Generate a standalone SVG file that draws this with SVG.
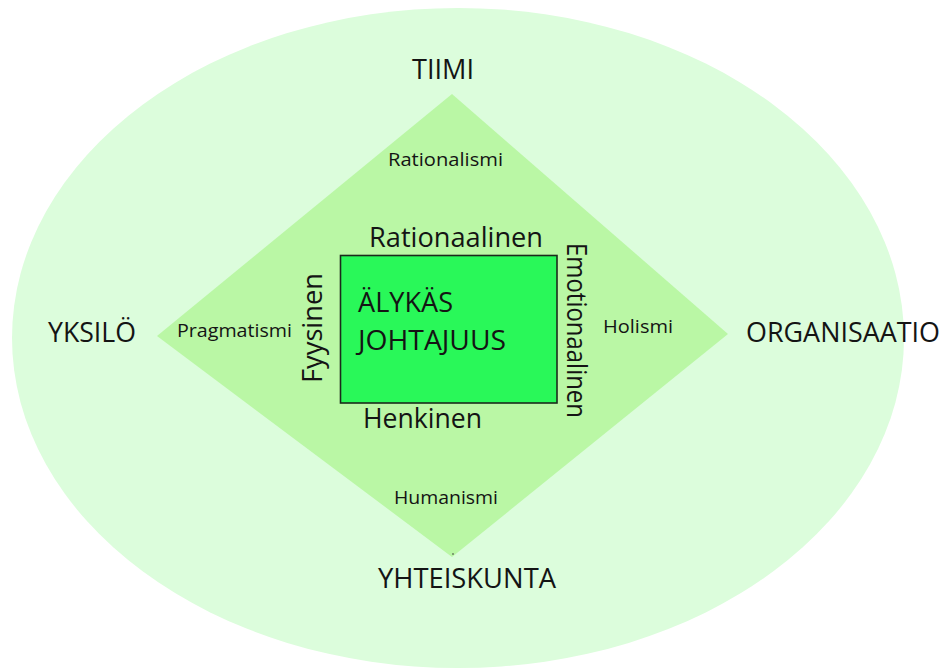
<svg xmlns="http://www.w3.org/2000/svg" width="946" height="668" viewBox="0 0 946 668">
  <style>
    text { font-family: "Open Sans", "Noto Sans", sans-serif; fill: #141414; }
    .big { font-size: 28px; }
    .small { font-size: 19px; }
  </style>
  <rect width="946" height="668" fill="#ffffff"/>

  <!-- outer field -->
  <g id="field">
    <ellipse cx="458" cy="338" rx="446" ry="330" fill="#dcfddc"/>
  </g>

  <!-- diamond of approaches -->
  <g id="diamond">
    <polygon points="452,94 728,334 452,557 157,336" fill="#baf7a5"/>
    <circle cx="453" cy="554" r="0.8" fill="#333"/>
  </g>

  <!-- central box -->
  <g id="core">
    <rect x="340.5" y="255.5" width="216.5" height="147.5" fill="#29f859" stroke="#1b2a1b" stroke-width="1.6"/>
    <text class="big" x="358" y="312" textLength="95" lengthAdjust="spacingAndGlyphs">ÄLYKÄS</text>
    <text class="big" x="358" y="350" textLength="148" lengthAdjust="spacingAndGlyphs">JOHTAJUUS</text>
  </g>

  <!-- outer labels -->
  <g id="tiimi"><text class="big" x="412" y="79" textLength="62" lengthAdjust="spacingAndGlyphs">TIIMI</text></g>
  <g id="yksilo"><text class="big" x="48" y="342" textLength="88" lengthAdjust="spacingAndGlyphs">YKSILÖ</text></g>
  <g id="organisaatio"><text class="big" x="746" y="342" textLength="194" lengthAdjust="spacingAndGlyphs">ORGANISAATIO</text></g>
  <g id="yhteiskunta"><text class="big" x="378" y="588" textLength="178" lengthAdjust="spacingAndGlyphs">YHTEISKUNTA</text></g>

  <!-- diamond labels -->
  <g id="rationalismi"><text class="small" x="388" y="166" textLength="115" lengthAdjust="spacingAndGlyphs">Rationalismi</text></g>
  <g id="pragmatismi"><text class="small" x="177" y="337" textLength="115" lengthAdjust="spacingAndGlyphs">Pragmatismi</text></g>
  <g id="holismi"><text class="small" x="603" y="333" textLength="70" lengthAdjust="spacingAndGlyphs">Holismi</text></g>
  <g id="humanismi"><text class="small" x="394" y="504" textLength="104" lengthAdjust="spacingAndGlyphs">Humanismi</text></g>

  <!-- box side labels -->
  <g id="rationaalinen"><text class="big" x="369" y="247" textLength="174" lengthAdjust="spacingAndGlyphs">Rationaalinen</text></g>
  <g id="henkinen"><text class="big" x="363" y="428" textLength="119" lengthAdjust="spacingAndGlyphs">Henkinen</text></g>
  <g id="fyysinen"><text class="big" transform="translate(322,383) rotate(-90)" x="0" y="0" textLength="110" lengthAdjust="spacingAndGlyphs">Fyysinen</text></g>
  <g id="emotionaalinen"><text class="big" transform="translate(567,243) rotate(90)" x="0" y="0" textLength="175" lengthAdjust="spacingAndGlyphs">Emotionaalinen</text></g>

  <g id="connectors"></g>
</svg>
